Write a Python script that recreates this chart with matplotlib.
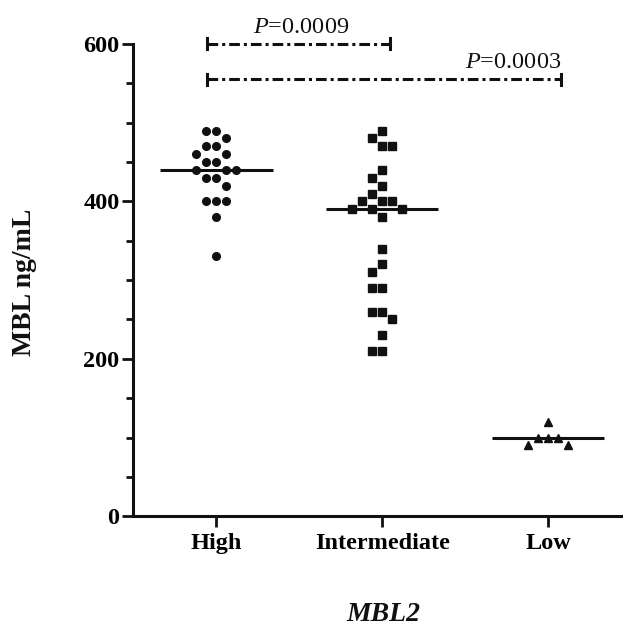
import numpy as np
import matplotlib
matplotlib.use("Agg")
import matplotlib.pyplot as plt
from matplotlib.ticker import MultipleLocator

plt.rcParams['font.family'] = ['Liberation Serif', 'DejaVu Serif']
plt.rcParams['mathtext.fontset'] = 'custom'
plt.rcParams['mathtext.it'] = 'Liberation Serif:italic'
plt.rcParams['mathtext.rm'] = 'Liberation Serif'

# data (MBL ng/mL)
categories = ["High", "Intermediate", "Low"]
high = [490, 490, 480, 470, 470, 460, 460, 450, 450, 440, 440, 440,
        430, 430, 420, 400, 400, 400, 380, 330]
intermediate = [490, 480, 470, 470, 440, 430, 420, 410, 400, 400, 400,
                390, 390, 390, 380, 340, 320, 310, 290, 290, 260, 260,
                250, 230, 210, 210]
low = [120, 100, 100, 100, 90, 90]
markers = ["o", "s", "^"]
p_labels = ["$P$=0.0009", "$P$=0.0003"]

ink = "#111111"

fig = plt.figure(figsize=(6.23, 6.28), dpi=100)
ax = fig.add_axes([0.214, 0.178, 0.784, 0.752])
ax.set_xlim(0.5, 3.445)
ax.set_ylim(0, 600)

# pixel scale of the axes, used to lay out the swarm
bbox = ax.get_window_extent()
px_x = bbox.width / (3.445 - 0.5)
px_y = bbox.height / 600.0


def swarm(vals, step_px=10, gap_px=9.5):
    # greedy beeswarm: take slots 0, -1, +1, -2, +2 ... until no overlap
    order = np.argsort(vals)[::-1]
    placed = []
    offs = np.zeros(len(vals))
    for k in order:
        y = vals[k] * px_y
        for slot in [0, -1, 1, -2, 2, -3, 3]:
            x = slot * step_px
            if all((x - px) ** 2 + (y - py) ** 2 >= gap_px ** 2 for px, py in placed):
                break
        placed.append((x, y))
        offs[k] = x / px_x
    return offs


groups = [high, intermediate, low]
for i, (vals, m) in enumerate(zip(groups, markers)):
    xpos = i + 1 + swarm(np.asarray(vals, dtype=float))
    ax.plot(xpos, vals, linestyle="none", marker=m, markersize=5.5 if m != "^" else 6,
            color=ink, zorder=3)
    med = np.median(vals)
    ax.plot([i + 1 - 0.34, i + 1 + 0.34], [med, med], color=ink, lw=2.2, zorder=4,
            solid_capstyle="butt")

ax.set_xticks([1, 2, 3])
ax.set_xticklabels(categories, fontsize=17.5, fontweight="bold")
ax.yaxis.set_major_locator(MultipleLocator(200))
ax.yaxis.set_minor_locator(MultipleLocator(50))
for lab in ax.get_yticklabels():
    lab.set_fontsize(17.5)
    lab.set_fontweight("bold")
ax.tick_params(axis="both", which="major", length=8, width=2, color=ink, pad=2)
ax.tick_params(axis="y", which="minor", length=5, width=2, color=ink)
ax.tick_params(axis="x", pad=4)

for s in ["top", "right"]:
    ax.spines[s].set_visible(False)
for s in ["left", "bottom"]:
    ax.spines[s].set_linewidth(2.2)
    ax.spines[s].set_color(ink)

# significance brackets
brackets = [(0.944, 2.045, 600), (0.944, 3.08, 555)]
for (x0, x1, yb), lab in zip(brackets, p_labels):
    ax.plot([x0, x1], [yb, yb], color=ink, lw=2.2, linestyle=(0, (3.5, 1.3, 1, 1.3)),
            clip_on=False, zorder=5)
    for xe in (x0, x1):
        ax.plot([xe, xe], [yb - 7, yb + 7], color=ink, lw=2.2, clip_on=False, zorder=5)
    if x1 < 2.5:
        ax.text((x0 + x1) / 2 + 0.015, yb + 14, lab, ha="center", va="baseline",
                fontsize=17.5, color=ink, clip_on=False)
    else:
        ax.text(x1, yb + 14, lab, ha="right", va="baseline",
                fontsize=17.5, color=ink, clip_on=False)

fig.text(25 / 623, 1 - 282 / 628, "MBL ng/mL", rotation=90, ha="center", va="center",
         fontsize=20, fontweight="bold", color=ink)
fig.text(383 / 623, 7 / 628, "MBL2", ha="center", va="baseline",
         fontsize=20, fontweight="bold", fontstyle="italic", color=ink)

fig.savefig("out.png", dpi=100)
